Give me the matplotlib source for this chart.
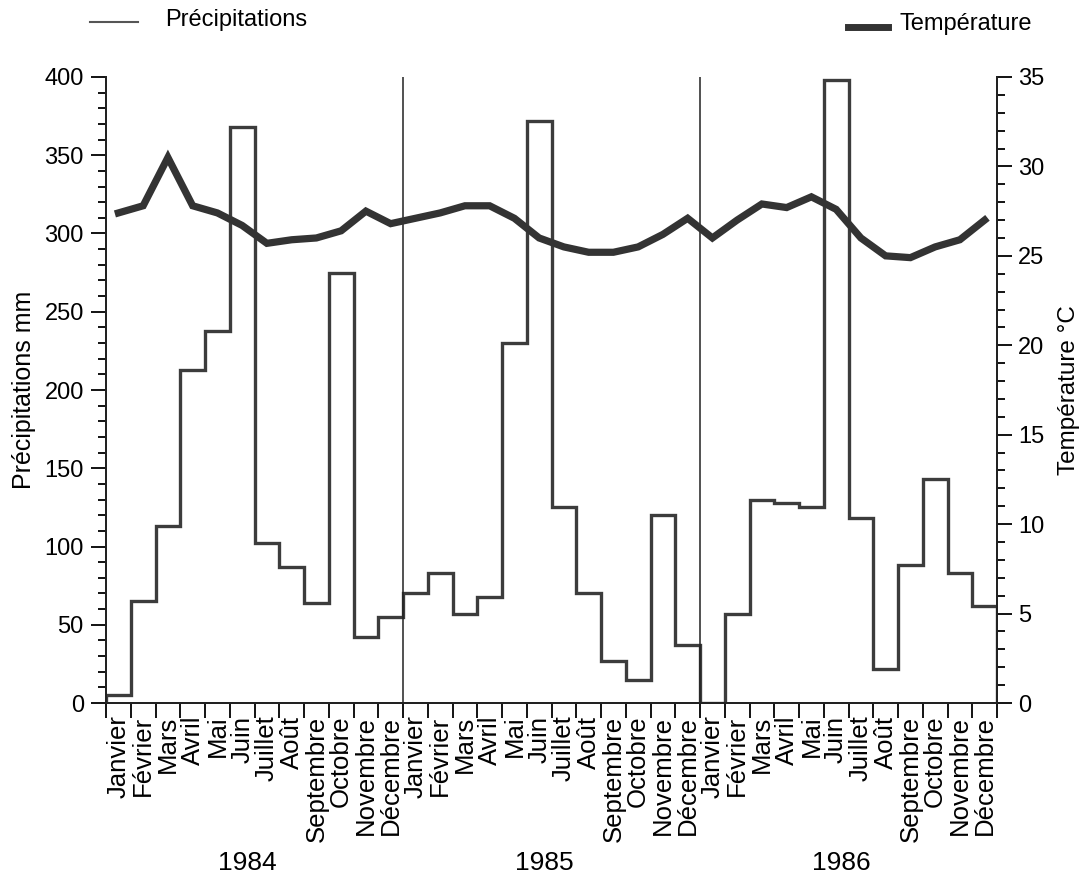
import matplotlib
matplotlib.use("Agg")
import matplotlib.pyplot as plt
from matplotlib.ticker import MultipleLocator
import numpy as np

plt.rcParams['font.family'] = ['Liberation Sans', 'DejaVu Sans']

years = ["1984", "1985", "1986"]
months = ["Janvier", "Février", "Mars", "Avril", "Mai", "Juin", "Juillet",
          "Août", "Septembre", "Octobre", "Novembre", "Décembre"]

precip_1984 = [5, 65, 113, 213, 238, 368, 102, 87, 64, 275, 42, 55]
precip_1985 = [70, 83, 57, 68, 230, 372, 125, 70, 27, 15, 120, 37]
precip_1986 = [0, 57, 130, 128, 125, 398, 118, 22, 88, 143, 83, 62]

temp_1984 = [27.4, 27.8, 30.5, 27.8, 27.4, 26.7, 25.7, 25.9, 26.0, 26.4, 27.5, 26.8]
temp_1985 = [27.1, 27.4, 27.8, 27.8, 27.1, 26.0, 25.5, 25.2, 25.2, 25.5, 26.2, 27.1]
temp_1986 = [26.0, 27.0, 27.9, 27.7, 28.3, 27.6, 26.0, 25.0, 24.9, 25.5, 25.9, 27.0]

precip = precip_1984 + precip_1985 + precip_1986
temp = temp_1984 + temp_1985 + temp_1986
labels = months * 3
n = len(precip)

fig = plt.figure(figsize=(10.83, 8.89), dpi=100)
ax = fig.add_axes([0.0979, 0.2092, 0.8227, 0.7042])
ax2 = ax.twinx()

edges = np.arange(n + 1)
centers = np.arange(n) + 0.5

ax.stairs(precip, edges, baseline=0, fill=False, color="#3c3c3c", linewidth=2.4)
ax2.plot(centers, temp, color="#333333", linewidth=5.2, solid_joinstyle="miter")

for k in (12, 24):
    ax.axvline(k, ymin=0, ymax=1, color="#222222", linewidth=1.1)

ax.set_xlim(0, n)
ax.set_ylim(0, 400)
ax2.set_ylim(0, 35)

ax.yaxis.set_major_locator(MultipleLocator(50))
ax.yaxis.set_minor_locator(MultipleLocator(10))
ax2.yaxis.set_major_locator(MultipleLocator(5))
ax2.yaxis.set_minor_locator(MultipleLocator(1))

ax.set_xticks(edges)
ax.set_xticklabels([])
ax.set_xticks(centers, minor=True)
ax.set_xticklabels(labels, minor=True, rotation=90, fontsize=18.5)
ax.tick_params(axis="x", which="major", length=11, width=1.3, direction="out")
ax.tick_params(axis="x", which="minor", length=0, pad=9)

ax.tick_params(axis="y", which="major", length=11, width=1.3, labelsize=17, pad=5)
ax.tick_params(axis="y", which="minor", length=6, width=1.3)
ax2.tick_params(axis="y", which="major", length=11, width=1.3, labelsize=17, pad=4)
ax2.tick_params(axis="y", which="minor", length=6, width=1.3)

for a in (ax, ax2):
    a.spines["top"].set_visible(False)
    for s in ("left", "right", "bottom"):
        a.spines[s].set_linewidth(1.4)
        a.spines[s].set_color("#222222")

ax.set_ylabel("Précipitations mm", fontsize=18, labelpad=6)
ax2.set_ylabel("Température °C", fontsize=17.5, labelpad=10)

for i, y in enumerate(years):
    ax.text(i * 12 + 5.7, -0.255, y, transform=ax.get_xaxis_transform(),
            ha="center", va="center", fontsize=19)

# legend at top
fig.lines.append(plt.Line2D([90 / 1083, 138 / 1083], [1 - 22 / 889] * 2,
                            transform=fig.transFigure, color="#555555", linewidth=1.5))
fig.text(165 / 1083, 1 - 20 / 889, "Précipitations", fontsize=17, ha="left", va="center")
fig.lines.append(plt.Line2D([848 / 1083, 888 / 1083], [1 - 27 / 889] * 2,
                            transform=fig.transFigure, color="#333333", linewidth=5))
fig.text(900 / 1083, 1 - 24 / 889, "Température", fontsize=17, ha="left", va="center")

fig.savefig("out.png", dpi=100)
